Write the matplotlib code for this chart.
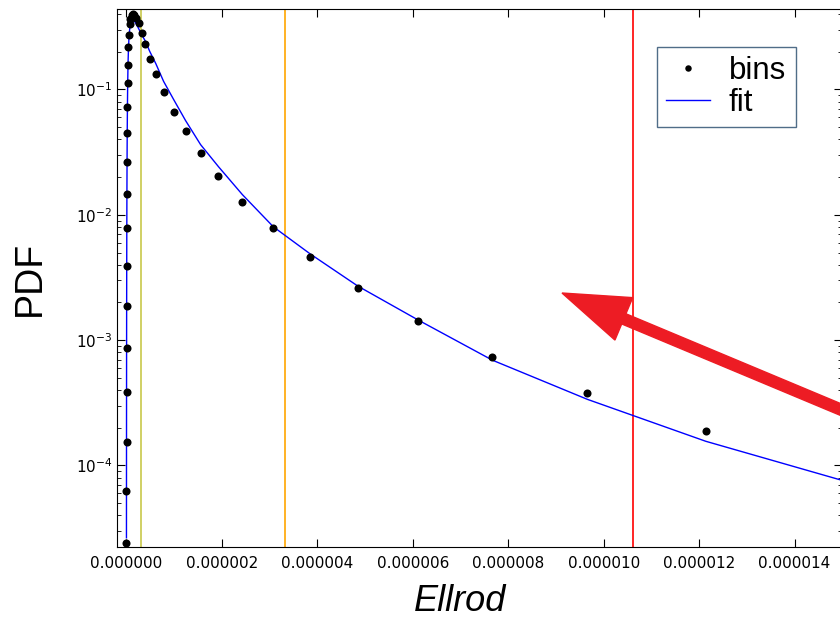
import matplotlib
matplotlib.use('Agg')
import matplotlib.pyplot as plt
import matplotlib.patches as mpatches
from matplotlib.transforms import IdentityTransform

# bin centres (Ellrod), in units of 1e-6
bin_x = [0.0019, 0.0024, 0.003, 0.0038, 0.0047, 0.0059, 0.0074, 0.0092, 0.0115,
         0.0144, 0.018, 0.0225, 0.028, 0.035, 0.044, 0.055, 0.069, 0.0865, 0.108,
         0.135, 0.169, 0.211, 0.264, 0.33, 0.40, 0.49, 0.616, 0.78, 0.99, 1.24,
         1.555, 1.93, 2.43, 3.08, 3.85, 4.85, 6.11, 7.67, 9.66, 12.14]
bin_pdf = [2.42e-5, 6.31e-5, 1.53e-4, 3.84e-4, 8.63e-4, 1.87e-3, 3.91e-3, 7.87e-3,
           1.47e-2, 2.65e-2, 4.53e-2, 7.31e-2, 0.112, 0.158, 0.217, 0.270, 0.331,
           0.363, 0.391, 0.398, 0.391, 0.370, 0.337, 0.281, 0.229, 0.174, 0.132,
           0.0946, 0.0655, 0.047, 0.0313, 0.0205, 0.0127, 0.00787, 0.00461, 0.0026,
           0.00142, 0.00073, 0.000377, 0.00019]

# fitted curve, sampled at the same bins plus one past the axis edge
fit_x = bin_x + [15.3]
fit_pdf = [2.65e-5, 6.67e-5, 1.58e-4, 3.91e-4, 8.79e-4, 1.91e-3, 3.98e-3, 8.02e-3,
           0.015, 0.027, 0.0461, 0.0745, 0.114, 0.161, 0.213, 0.261, 0.302, 0.331,
           0.350, 0.356, 0.350, 0.331, 0.302, 0.270, 0.242, 0.201, 0.161, 0.116,
           0.0832, 0.0565, 0.0363, 0.0242, 0.0145, 0.00802, 0.00488, 0.0027,
           0.00145, 0.000692, 0.000337, 0.000156, 7.05e-5]

# vertical marker lines (x, colour)
vline_x = [0.303, 3.33, 10.62]
vline_colors = ['#c8c84a', '#ffa500', '#ff0000']

fig = plt.figure(figsize=(8.4, 6.2), dpi=100)
ax = fig.add_axes([117.3 / 840, 73.3 / 620, 725 / 840, 537.4 / 620])

for xv, c in zip(vline_x, vline_colors):
    ax.axvline(xv * 1e-6, color=c, linewidth=1.2, zorder=1)

ax.plot([v * 1e-6 for v in fit_x], fit_pdf, color='#0000ff', linewidth=1.0,
        label='fit', zorder=2)
ax.plot([v * 1e-6 for v in bin_x], bin_pdf, 'o', color='black', markersize=5.8,
        markeredgewidth=0, label='bins', zorder=3)

ax.set_yscale('log')
ax.set_xlim(-0.19e-6, 15.0e-6)
ax.set_ylim(2.25e-5, 0.436)
ax.set_xticks([0, 2e-6, 4e-6, 6e-6, 8e-6, 10e-6, 12e-6, 14e-6])
ax.set_xticklabels(['%.6f' % (v * 1e-6) for v in [0, 2, 4, 6, 8, 10, 12, 14]])
ax.tick_params(which='both', direction='in', top=True, right=True,
               labelsize=11)
ax.tick_params(which='major', length=6)
ax.tick_params(which='minor', length=3)
ax.tick_params(axis='x', pad=7)

ax.set_xlabel('Ellrod', fontsize=26, style='italic', family='Liberation Sans')
ax.xaxis.set_label_coords((460 - 117.3) / 725, -0.07)
ax.set_ylabel('PDF', fontsize=27, family='Liberation Sans', labelpad=20)

handles, labels = ax.get_legend_handles_labels()
leg = ax.legend(handles[::-1], labels[::-1], loc='upper left',
                bbox_to_anchor=((657 - 117.3) / 725, 1 - (47 - 9.3) / 537.4),
                borderaxespad=0, fancybox=False,
                prop={'family': 'Liberation Sans', 'size': 22.5},
                markerscale=0.8, numpoints=1, handlelength=1.4,
                borderpad=0.3, labelspacing=0.05, handletextpad=0.6)
leg.get_frame().set_edgecolor('#24486b')
leg.get_frame().set_linewidth(1.0)

# big red pointer arrow, in figure pixels
arrow = mpatches.FancyArrow(880, 620 - 426, 562 - 880, (620 - 293) - (620 - 426),
                            width=11, head_width=46, head_length=67,
                            length_includes_head=True, color='#ed1c24',
                            transform=IdentityTransform(), zorder=10)
fig.add_artist(arrow)

fig.savefig('out.png', dpi=100)
